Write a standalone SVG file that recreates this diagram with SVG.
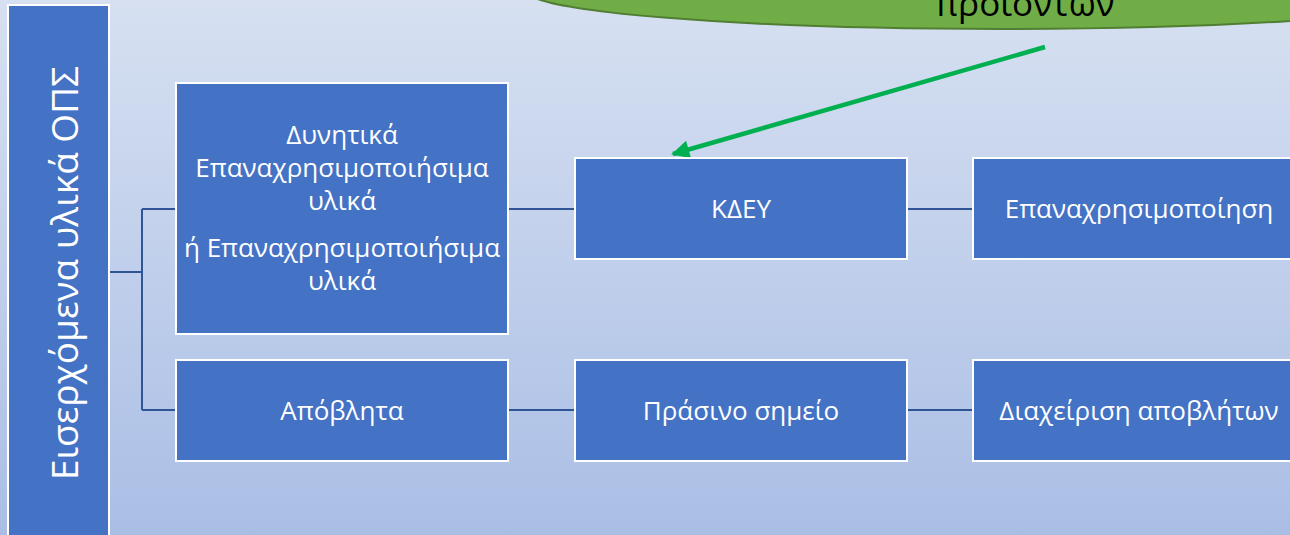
<svg xmlns="http://www.w3.org/2000/svg" width="1290" height="535" viewBox="0 0 1290 535">
<defs>
<linearGradient id="bg" x1="0" y1="0" x2="0" y2="1">
<stop offset="0" stop-color="#D6E0F1"/>
<stop offset="1" stop-color="#AABEE5"/>
</linearGradient>
<marker id="ah" viewBox="0 0 10 10" refX="9" refY="5" markerWidth="5" markerHeight="4" markerUnits="strokeWidth" orient="auto">
<path d="M0,0 L10,5 L0,10 z" fill="#00B050"/>
</marker>
<style>
.box{fill:#4472C4;stroke:#FFFFFF;stroke-width:2}
.t{font-family:"Open Sans","Noto Sans",sans-serif;fill:#FFFFFF;font-size:26px;text-anchor:middle}
.c{stroke:#2F5597;stroke-width:2;fill:none}
</style>
</defs>
<rect x="0" y="0" width="1290" height="535" fill="url(#bg)"/>
<g id="callout">
<ellipse cx="1000" cy="-10" rx="475" ry="39" fill="#70AD47" stroke="#507E32" stroke-width="2"/>
<text x="1025" y="16" font-family="Open Sans, Noto Sans, sans-serif" font-size="35" text-anchor="middle" fill="#000000">προϊόντων</text>
</g>
<g id="connectors">
<path class="c" d="M109,272 H142 M142,209 V410 M142,209 H176 M142,410 H176 M508,209 H575 M907,209 H973 M508,410 H575 M907,410 H973"/>
<line x1="1045" y1="47" x2="673" y2="154" stroke="#00B050" stroke-width="4.5" marker-end="url(#ah)"/>
</g>
<g id="n-input">
<rect class="box" x="8" y="5" width="101" height="540"/>
<text class="t" transform="translate(78,273) rotate(-90)" style="font-size:37px">Εισερχόμενα υλικά ΟΠΣ</text>
</g>
<g id="n-reusable">
<rect class="box" x="176" y="83" width="332" height="251"/>
<text class="t" x="342" y="144">Δυνητικά</text>
<text class="t" x="342" y="177">Επαναχρησιμοποιήσιμα</text>
<text class="t" x="342" y="210">υλικά</text>
<text class="t" x="342" y="257">ή Επαναχρησιμοποιήσιμα</text>
<text class="t" x="342" y="290">υλικά</text>
</g>
<g id="n-waste">
<rect class="box" x="176" y="360" width="332" height="101"/>
<text class="t" x="342" y="420">Απόβλητα</text>
</g>
<g id="n-kdey">
<rect class="box" x="575" y="158" width="332" height="101"/>
<text class="t" x="741" y="218">ΚΔΕΥ</text>
</g>
<g id="n-green">
<rect class="box" x="575" y="360" width="332" height="101"/>
<text class="t" x="741" y="420">Πράσινο σημείο</text>
</g>
<g id="n-reuse">
<rect class="box" x="973" y="158" width="332" height="101"/>
<text class="t" x="1139" y="218">Επαναχρησιμοποίηση</text>
</g>
<g id="n-mgmt">
<rect class="box" x="973" y="360" width="332" height="101"/>
<text class="t" x="1139" y="420">Διαχείριση αποβλήτων</text>
</g>
</svg>
